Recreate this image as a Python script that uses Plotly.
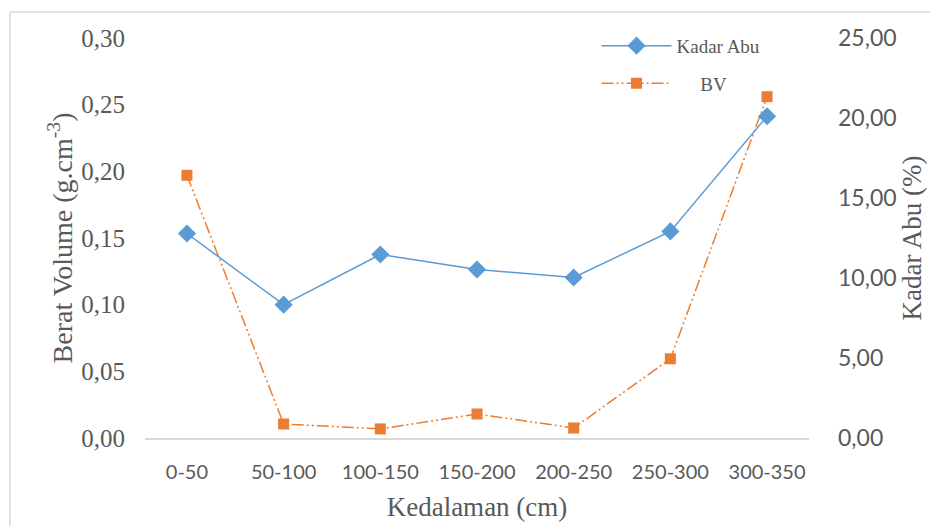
import plotly.graph_objects as go

# Depth classes and measured values
kedalaman = ["0-50", "50-100", "100-150", "150-200", "200-250", "250-300", "300-350"]
berat_volume = [0.197, 0.0105, 0.0068, 0.018, 0.0075, 0.0594, 0.256]   # g.cm-3
kadar_abu = [12.78, 8.33, 11.47, 10.53, 10.03, 12.91, 20.11]          # %

left_ticks = [0, 0.05, 0.10, 0.15, 0.20, 0.25, 0.30]
right_ticks = [0, 5, 10, 15, 20, 25]

W, H = 930, 526
ML, MR, MT, MB = 145, 121, 38, 88

fig = go.Figure()

fig.add_trace(go.Scatter(
    x=kedalaman, y=kadar_abu, name="Kadar Abu", yaxis="y2",
    legendgroup="abu",
    mode="lines+markers",
    line=dict(color="#5b9bd5", width=1.5),
    marker=dict(symbol="diamond", size=14, color="#5b9bd5"),
))
fig.add_trace(go.Scatter(
    x=kedalaman, y=berat_volume, name="     BV", yaxis="y",
    legendgroup="bv",
    mode="lines+markers",
    line=dict(color="#ed7d31", width=1.5, dash="12px,3px,2px,3px,2px,3px"),
    marker=dict(symbol="square", size=11, color="#ed7d31"),
))

pw = W - ML - MR
ph = H - MT - MB
# light frame around the chart
fig.add_shape(
    type="rect", xref="paper", yref="paper",
    x0=(10 - ML) / pw, x1=(940 - ML) / pw,
    y0=(ph + MT - 540) / ph, y1=(ph + MT - 12) / ph,
    line=dict(color="#d9d9d9", width=1.5), fillcolor="rgba(0,0,0,0)", layer="below",
)

fig.update_layout(
    width=W, height=H,
    margin=dict(l=ML, r=MR, t=MT, b=MB, pad=0, autoexpand=False),
    paper_bgcolor="white", plot_bgcolor="white",
    separators=",.",
    showlegend=True,
    legend=dict(
        x=0.68, y=1.028, xanchor="left", yanchor="top",
        font=dict(family="Liberation Serif", size=19, color="#595959"),
        itemwidth=70, traceorder="grouped", tracegroupgap=10,
        bgcolor="rgba(0,0,0,0)",
    ),
    xaxis=dict(
        type="category", showgrid=False, zeroline=False, automargin=False,
        showline=True, linecolor="#d9d9d9", linewidth=2,
        ticks="", ticklen=0, ticklabelstandoff=15,
        tickfont=dict(family="Lato", size=20, color="#595959"),
        title=dict(text="Kedalaman (cm)", standoff=15,
                   font=dict(family="Liberation Serif", size=27, color="#595959")),
    ),
    yaxis=dict(
        range=[0, 0.30], tickvals=left_ticks, tickformat=".2f", automargin=False,
        showgrid=False, zeroline=False, showline=False, ticks="",
        ticklabelstandoff=19,
        tickfont=dict(family="Liberation Serif", size=25, color="#595959"),
        title=dict(text="Berat Volume (g.cm<sup>-3</sup>)", standoff=0,
                   font=dict(family="Liberation Serif", size=28, color="#595959")),
    ),
    yaxis2=dict(
        range=[0, 25], tickvals=right_ticks, tickformat=".2f", automargin=False,
        overlaying="y", side="right",
        showgrid=False, zeroline=False, showline=False, ticks="",
        ticklabelstandoff=28,
        tickfont=dict(family="Lato", size=23, color="#595959"),
        title=dict(text="Kadar Abu (%)", standoff=0,
                   font=dict(family="Liberation Serif", size=27, color="#595959")),
    ),
)

fig.write_html("out.html")
